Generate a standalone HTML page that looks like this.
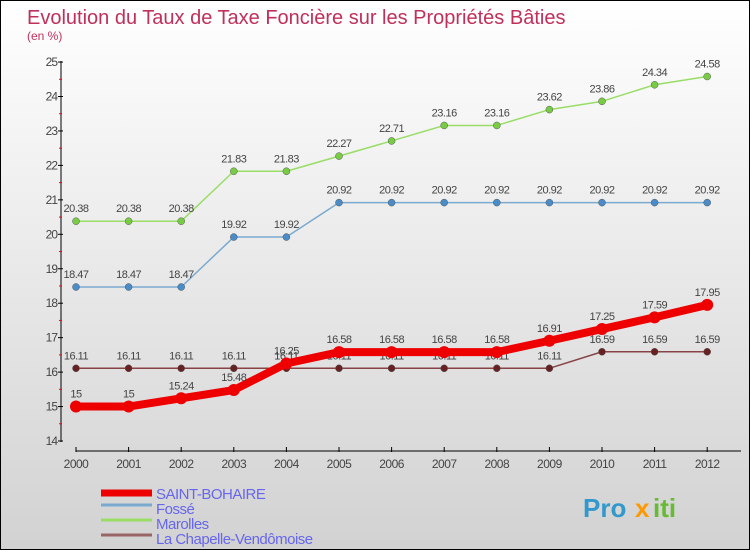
<!DOCTYPE html>
<html><head><meta charset="utf-8"><style>
body{margin:0}
#c{width:750px;height:550px;position:relative;box-sizing:border-box;border:1px solid #000;background:linear-gradient(#ffffff,#d2d2d2);font-family:"Liberation Sans",sans-serif;overflow:hidden}
svg{position:absolute;left:0;top:0}
</style></head><body>
<div id="c">
<svg id="s" width="750" height="550">
<text x="26" y="23" font-size="20" fill="#c0305a">Evolution du Taux de Taxe Foncière sur les Propriétés Bâties</text>
<text x="26" y="39" font-size="12" fill="#c0305a">(en %)</text>
</svg>
</div>
<script>
const years=[2000,2001,2002,2003,2004,2005,2006,2007,2008,2009,2010,2011,2012];
const saint=[15,15,15.24,15.48,16.25,16.58,16.58,16.58,16.58,16.91,17.25,17.59,17.95];
const fosse=[18.47,18.47,18.47,19.92,19.92,20.92,20.92,20.92,20.92,20.92,20.92,20.92,20.92];
const marolles=[20.38,20.38,20.38,21.83,21.83,22.27,22.71,23.16,23.16,23.62,23.86,24.34,24.58];
const chapelle=[16.11,16.11,16.11,16.11,16.11,16.11,16.11,16.11,16.11,16.11,16.59,16.59,16.59];
const yTicks=[14,15,16,17,18,19,20,21,22,23,24,25];
const names=["SAINT-BOHAIRE","Fossé","Marolles","La Chapelle-Vendômoise"];
const NS="http://www.w3.org/2000/svg",s=document.getElementById('s');
const X=i=>75+i*52.6, Y=v=>440-(v-14)*34.45;
function mk(t,a,txt){const e=document.createElementNS(NS,t);for(const k in a)e.setAttribute(k,a[k]);if(txt!==undefined)e.textContent=txt;s.appendChild(e);return e;}
let e=mk('line',{x1:60,y1:60,x2:60,y2:441,stroke:'#000'});

e=mk('line',{x1:75,y1:450,x2:740,y2:450,stroke:'#000'});

yTicks.forEach(v=>{
 mk('line',{x1:57,y1:Y(v),x2:62,y2:Y(v),stroke:'#000'});
 if(v<25)mk('line',{x1:58,y1:Y(v+0.5),x2:61,y2:Y(v+0.5),stroke:'#f00'});
 e=mk('text',{x:56,y:Y(v)+4,'font-size':12,fill:'#444','text-anchor':'end','letter-spacing':'-1'},v);
 
});
years.forEach((y,i)=>{
 mk('line',{x1:X(i),y1:446,x2:X(i),y2:451,stroke:'#000'});
 e=mk('text',{x:X(i),y:467,'font-size':12,fill:'#444','text-anchor':'middle','letter-spacing':'-0.5'},y);
 
});
const series=[[marolles,'#99dd66','#77cc44',1.5,3.5,'marolles'],[fosse,'#7aaad0','#4a8cc8',1.5,3.5,'fosse'],[chapelle,'#884444','#662222',1.5,3.5,'chapelle'],[saint,'#ee0000','#ee0000',8,6,'saint-bohaire']];
series.forEach(([d,c,pc,w,r,n])=>{
 e=mk('polyline',{points:d.map((v,i)=>X(i)+','+Y(v)).join(' '),fill:'none',stroke:c,'stroke-width':w,'stroke-linejoin':'round'});
 
 d.forEach((v,i)=>{
  e=mk('circle',{cx:X(i),cy:Y(v),r:r,fill:pc,stroke:n==='saint-bohaire'?'none':'#555','stroke-width':0.5});
  
  e=mk('text',{x:X(i),y:Y(v)-9,'font-size':11,fill:'#444','text-anchor':'middle','letter-spacing':'-0.5'},v);
  
 });
});
const lc=['#ee0000','#7aaad0','#99dd66','#996666'],lw=[7,3,3,3],ly=[492,507,522,537];
names.forEach((n,i)=>{
 e=mk('line',{x1:100,y1:ly[i]+(i===0?0:-3),x2:151,y2:ly[i]+(i===0?0:-3),stroke:lc[i],'stroke-width':lw[i]});
 
 e=mk('text',{x:155,y:ly[i]+6,'font-size':15,fill:'#6666ee','letter-spacing':'-0.5'},n);
 
});
e=mk('text',{x:582,y:516,'font-size':26,'font-weight':'bold',fill:'#3399cc'},'Pro');

e=mk('text',{x:634,y:516,'font-size':26,'font-weight':'bold',fill:'#ff9900'},'x');

e=mk('text',{x:652,y:516,'font-size':26,'font-weight':'bold',fill:'#66bb33'},'iti');

</script>
</body></html>
